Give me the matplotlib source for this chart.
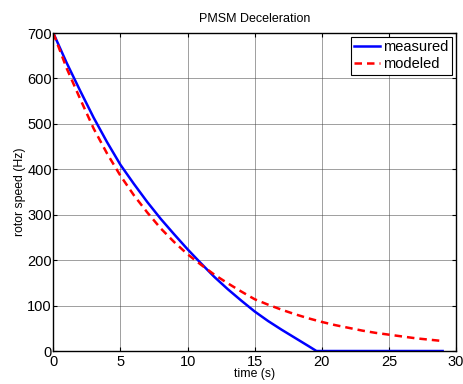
import matplotlib
matplotlib.use("Agg")
import matplotlib.pyplot as plt

plt.rcParams['font.family'] = ['Liberation Sans', 'DejaVu Sans']

# time axis (s)
time_s = [0, 1, 2, 3, 4, 5, 6, 7, 8, 9, 10, 11, 12, 13, 14, 15, 16, 17, 18, 19,
          19.6, 20, 21, 22, 23, 24, 25, 26, 27, 28, 29]
# measured rotor speed (Hz)
measured = [700, 634, 573, 514, 460, 410, 368, 328, 291, 257, 224, 193, 163, 136, 111, 87,
            66, 47, 29, 11, 0, 0, 0, 0, 0, 0, 0, 0, 0, 0, 0]

time_model = list(range(0, 30))
# modeled rotor speed (Hz)
modeled = [700, 622, 555, 490, 435, 386, 343, 305, 270, 240, 213, 190, 168, 149, 131, 114,
           102, 91, 81, 72, 64, 57, 51, 45, 40, 36, 32, 28, 25, 22]

fig = plt.figure(figsize=(4.64, 3.84), dpi=100)
ax = fig.add_axes([0.1149, 0.0859, 0.868, 0.828])

ax.plot(time_s, measured, color='#0000ff', lw=1.8, label='measured')
ax.plot(time_model, modeled, color='#ff0000', lw=1.8, ls=(0, (3, 2)), label='modeled')

ax.set_xlim(0, 30)
ax.set_ylim(0, 700)
ax.set_xticks(range(0, 31, 5))
ax.set_yticks(range(0, 701, 100))
ax.grid(True, color='#444444', lw=0.6, alpha=0.6)
ax.tick_params(direction='in', top=True, right=True, labelsize=10.5, length=3)
ax.tick_params(axis='x', pad=3)
ax.tick_params(axis='y', pad=1)
for s in ax.spines.values():
    s.set_linewidth(1.0)

ax.set_title('PMSM Deceleration', fontsize=9, pad=8)
ax.set_xlabel('time (s)', fontsize=8.8, labelpad=-1)
ax.set_ylabel('rotor speed (Hz)', fontsize=8.8, labelpad=1)

leg = ax.legend(loc='upper right', fontsize=10.5, fancybox=False, framealpha=1,
                edgecolor='black', handlelength=1.75, handletextpad=0.25,
                borderaxespad=0.25, labelspacing=0.2, borderpad=0.25)
leg.get_frame().set_linewidth(0.8)

fig.savefig('out.png', dpi=100)
